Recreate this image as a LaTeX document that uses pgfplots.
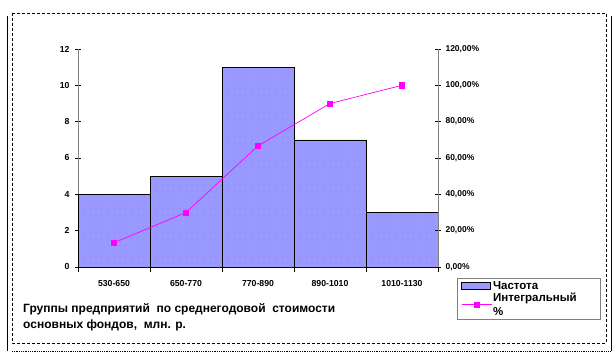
\documentclass[border=0pt]{standalone}
\usepackage{fontspec}
\setmainfont{Liberation Sans}
\usepackage{pgfplots}
\pgfplotsset{compat=1.18}
\usetikzlibrary{patterns.meta}
\definecolor{barblue}{HTML}{9999FF}
\definecolor{dotblue}{HTML}{6666CC}
\definecolor{mag}{HTML}{FF00FF}
\pgfplotsset{
  mybarlegend/.style={legend image code/.code={\draw[##1] (0pt,-3.5pt) rectangle (29pt,3.5pt);}},
  mylinelegend/.style={legend image code/.code={\draw[##1, mark repeat=2, mark phase=2] plot coordinates {(0pt,0pt) (15pt,0pt) (30pt,0pt)};}},
}
\begin{document}
\begin{tikzpicture}[x=1pt,y=1pt]
\path[use as bounding box] (0,0) rectangle (613,353);
% frame
\draw[black, densely dashed, line width=0.6pt] (12,340) rectangle (606,10);
\draw[black, line width=0.6pt] (7,337) -- (7,1.5);
\draw[black, densely dotted, line width=0.8pt] (12,1.5) -- (611,1.5);
\draw[black, line width=0.6pt] (611,337) -- (611,1.5);
\begin{axis}[
  at={(78pt,86pt)}, anchor=south west,
  scale only axis, width=360pt, height=218pt,
  xmin=-0.5, xmax=4.5, ymin=0, ymax=12,
  axis x line*=bottom, axis y line*=left,
  x axis line style={black, line width=0.8pt},
  y axis line style={gray, line width=0.8pt},
  xtick={0,1,2,3,4},
  xticklabels={530-650,650-770,770-890,890-1010,1010-1130},
  major x tick style={draw=none},
  minor xtick={-0.5,0.5,1.5,2.5,3.5,4.5},
  minor x tick style={black, line width=0.6pt},
  minor tick length=5pt,
  ytick={0,2,...,12},
  y tick style={black, line width=0.6pt},
  major tick length=6pt,
  tick align=center,
  xtick align=outside,
  ticklabel style={font=\fontsize{8.7}{10}\selectfont\bfseries},
  xticklabel style={yshift=-4pt},
  yticklabel style={xshift=-2pt},
  /pgf/number format/assume math mode=true,
  clip=false,
]
\addplot[ybar, bar width=1, bar shift=0, draw=black, line width=0.6pt, fill=barblue,
  postaction={pattern={Dots[distance=6pt,radius=0.45pt]}, pattern color=dotblue}]
  coordinates {(0,4) (1,5) (2,11) (3,7) (4,3)};
\end{axis}
\begin{axis}[
  at={(78pt,86pt)}, anchor=south west,
  scale only axis, width=360pt, height=218pt,
  xmin=-0.5, xmax=4.5, ymin=0, ymax=120,
  axis x line=none, axis y line*=right,
  y axis line style={gray, line width=0.8pt},
  ytick={0,20,...,120},
  yticklabels={0{,}00\%,20{,}00\%,40{,}00\%,60{,}00\%,80{,}00\%,100{,}00\%,120{,}00\%},
  y tick style={black, line width=0.6pt},
  major tick length=6pt,
  tick align=center,
  ticklabel style={font=\fontsize{8.5}{10}\selectfont\bfseries},
  yticklabel style={xshift=1pt},
  /pgf/number format/assume math mode=true,
  legend style={at={(1.053,-0.05)}, anchor=north west, draw=gray, line width=0.6pt,
    font=\fontsize{11.5}{14}\selectfont\bfseries, cells={anchor=west, align=left},
    nodes={inner sep=1pt},
    inner xsep=4pt, inner ysep=2pt, row sep=0pt},
  clip=false,
]
\addlegendimage{draw=black, line width=0.6pt, fill=barblue, mybarlegend}
\addlegendentry{Частота}
\addplot[mag, line width=0.7pt, mark=square*, mark size=2.6pt, mark options={fill=mag}, mylinelegend]
  coordinates {(0,13.33) (1,30) (2,66.67) (3,90) (4,100)};
\addlegendentry{Интегральный\\\%\hspace*{92pt}}
\end{axis}
\node[anchor=north west, align=left, font=\fontsize{12}{16}\selectfont\bfseries, inner sep=0pt]
  at (23,50) {Группы предприятий\ \ по среднегодовой\ \ стоимости\\основных фондов,\ \ млн. р.};
\end{tikzpicture}
\end{document}
